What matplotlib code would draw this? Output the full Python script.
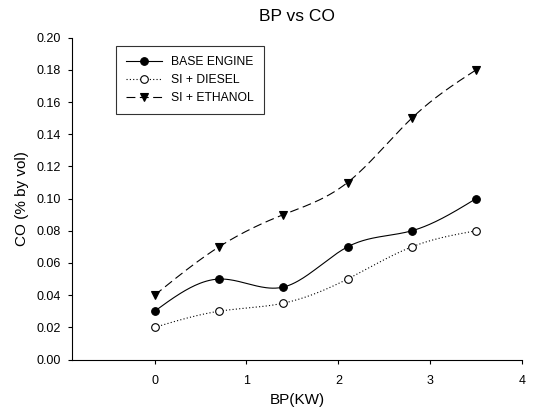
import numpy as np
import matplotlib
matplotlib.use("Agg")
import matplotlib.pyplot as plt

plt.rcParams['font.family'] = ['Liberation Sans', 'DejaVu Sans']

bp = [0.0, 0.7, 1.4, 2.1, 2.8, 3.5]
base_engine = [0.03, 0.05, 0.045, 0.07, 0.08, 0.10]
si_diesel = [0.02, 0.03, 0.035, 0.05, 0.07, 0.08]
si_ethanol = [0.04, 0.07, 0.09, 0.11, 0.15, 0.18]
x_ticks = [0, 1, 2, 3, 4]
y_ticks = [0.00, 0.02, 0.04, 0.06, 0.08, 0.10, 0.12, 0.14, 0.16, 0.18, 0.20]


def natural_spline(x, y, n=200):
    x = np.asarray(x, float)
    y = np.asarray(y, float)
    k = len(x)
    h = np.diff(x)
    A = np.zeros((k, k))
    r = np.zeros(k)
    A[0, 0] = A[-1, -1] = 1.0
    for i in range(1, k - 1):
        A[i, i - 1] = h[i - 1]
        A[i, i] = 2 * (h[i - 1] + h[i])
        A[i, i + 1] = h[i]
        r[i] = 3 * ((y[i + 1] - y[i]) / h[i] - (y[i] - y[i - 1]) / h[i - 1])
    c = np.linalg.solve(A, r)
    xs = np.linspace(x[0], x[-1], n)
    idx = np.clip(np.searchsorted(x, xs) - 1, 0, k - 2)
    dx = xs - x[idx]
    b = (y[1:] - y[:-1]) / h - h * (2 * c[:-1] + c[1:]) / 3
    d = (c[1:] - c[:-1]) / (3 * h)
    ys = y[idx] + b[idx] * dx + c[idx] * dx ** 2 + d[idx] * dx ** 3
    return xs, ys


fig = plt.figure(figsize=(5.35, 4.19), dpi=100)
ax = fig.add_axes([0.1346, 0.142, 0.8411, 0.768])

series = [
    ("BASE ENGINE", base_engine, '-', 'o', 'black'),
    ("SI + DIESEL", si_diesel, (0, (1, 2)), 'o', 'white'),
    ("SI + ETHANOL", si_ethanol, (0, (8, 4)), 'v', 'black'),
]

for label, vals, ls, mk, fc in series:
    xs, ys = natural_spline(bp, vals)
    ax.plot(xs, ys, color='black', linestyle=ls, linewidth=0.8)
    ax.plot(bp, vals, linestyle='none', marker=mk, markersize=5.5,
            markerfacecolor=fc, markeredgecolor='black', markeredgewidth=0.8)
    ax.plot([], [], color='black', linestyle=ls, linewidth=0.8, marker=mk,
            markersize=5.5, markerfacecolor=fc, markeredgecolor='black',
            markeredgewidth=0.8, label=label)

ax.set_xlim(-0.9, 4.0)
ax.set_ylim(0.0, 0.20)
ax.set_xticks(x_ticks)
ax.set_yticks(y_ticks)
ax.set_yticklabels([f"{v:.2f}" for v in y_ticks])
ax.spines['top'].set_visible(False)
ax.spines['right'].set_visible(False)
for s in ('left', 'bottom'):
    ax.spines[s].set_linewidth(0.8)
ax.tick_params(direction='out', length=3.2, width=0.8, labelsize=9)
ax.tick_params(axis='x', pad=8)
ax.tick_params(axis='y', pad=5)

ax.set_title("BP vs CO", fontsize=12.5, pad=12)
ax.set_xlabel("BP(KW)", fontsize=11, labelpad=4)
ax.set_ylabel("CO (% by vol)", fontsize=11, labelpad=5)

leg = ax.legend(loc='upper left', bbox_to_anchor=(0.097, 0.975), fontsize=8.7,
                frameon=True, fancybox=False, edgecolor='black',
                handlelength=3.0, borderpad=0.85, labelspacing=0.5,
                handletextpad=0.75, borderaxespad=0)
leg.get_frame().set_linewidth(0.8)

fig.savefig("out.png", dpi=100)
